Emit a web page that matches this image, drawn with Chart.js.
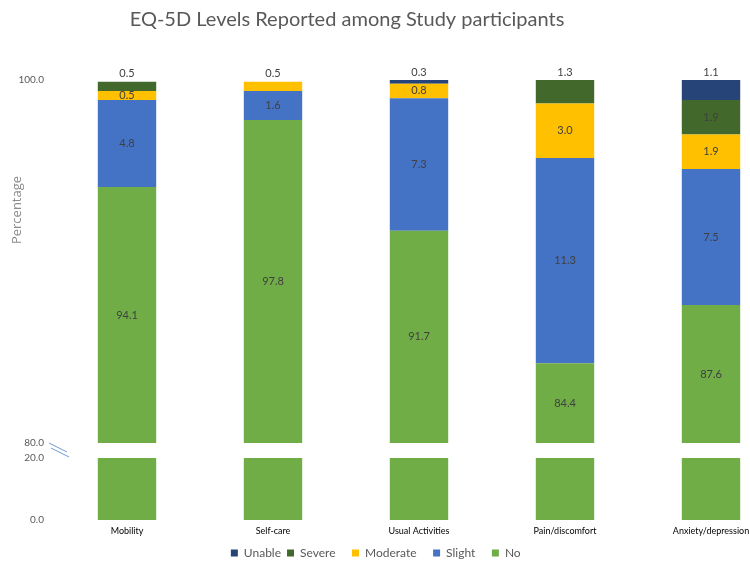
<!DOCTYPE html>
<html>
<head>
<meta charset="utf-8">
<script src="https://cdn.jsdelivr.net/npm/chart.js@4.4.0/dist/chart.umd.min.js"></script>
<style>
  html, body { margin: 0; padding: 0; background: #fff; overflow: hidden; width: 750px; height: 568px; }
  #top { position: absolute; left: -90px; top: 0; width: 874px; height: 465px; }
  #bottom { position: absolute; left: -40px; top: 442px; width: 824px; height: 126px; }
</style>
</head>
<body>
<div id="top"><canvas id="topChart"></canvas></div>
<div id="bottom"><canvas id="bottomChart"></canvas></div>
<script>
const categories = ["Mobility", "Self-care", "Usual Activities", "Pain/discomfort", "Anxiety/depression"];
const noProblems = [94.1, 97.8, 91.7, 84.4, 87.6];
const slight = [4.8, 1.6, 7.3, 11.3, 7.5];
const moderate = [0.5, 0.5, 0.8, 3.0, 1.9];
const severe = [0.5, 0, 0, 1.3, 1.9];
const unable = [0, 0, 0.3, 0, 1.1];
const topTicks = [80, 100];
const bottomTicks = [0, 20];

const FONT = "Lato";

function makeDatasets() {
    return [
        { label: "No", data: noProblems, backgroundColor: "#70ad47" },
        { label: "Slight", data: slight, backgroundColor: "#4472c4" },
        { label: "Moderate", data: moderate, backgroundColor: "#ffc000" },
        { label: "Severe", data: severe, backgroundColor: "#43682b" },
        { label: "Unable", data: unable, backgroundColor: "#264478" },
    ].map((d) => ({ ...d, categoryPercentage: 0.8, barPercentage: 0.5, borderWidth: 0 }));
}

// value labels: top segment above bar, others centered in visible part
const barLabels = {
    id: "barLabels",
    afterDatasetsDraw(chart) {
        const { ctx, chartArea } = chart;
        ctx.save();
        ctx.font = "11px " + FONT;
        ctx.fillStyle = "#404040";
        ctx.textAlign = "center";
        ctx.textBaseline = "middle";
        chart.data.datasets.forEach((ds, di) => {
            const meta = chart.getDatasetMeta(di);
            meta.data.forEach((el, i) => {
                const v = ds.data[i];
                if (!v) return;
                let topIdx = 0;
                chart.data.datasets.forEach((d, k) => { if (d.data[i]) topIdx = k; });
                const yTop = Math.max(el.y, chartArea.top);
                let y;
                if (di === topIdx) {
                    y = yTop - 8;
                } else {
                    y = (yTop + Math.min(el.base, chartArea.bottom)) / 2;
                }
                ctx.fillText(v.toFixed(1), el.x, y);
            });
        });
        ctx.restore();
    },
};

// axis title and the axis break marks
const extras = {
    id: "extras",
    afterDraw(chart) {
        const { ctx } = chart;
        const off = 90;
        ctx.save();
        ctx.translate(off + 17, 210);
        ctx.rotate(-Math.PI / 2);
        ctx.font = "13px 'Open Sans'";
        ctx.fillStyle = "#8c8c8c";
        ctx.textAlign = "center";
        ctx.textBaseline = "middle";
        ctx.fillText("Percentage", 0, 0);
        ctx.restore();

        ctx.save();
        ctx.strokeStyle = "#6f9bd1";
        ctx.lineWidth = 1;
        ctx.beginPath();
        ctx.moveTo(off + 49, 443);
        ctx.lineTo(off + 67, 452);
        ctx.moveTo(off + 51, 448);
        ctx.lineTo(off + 69, 457);
        ctx.stroke();
        ctx.restore();
    },
};

new Chart(document.getElementById("topChart"), {
    type: "bar",
    data: { labels: categories, datasets: makeDatasets() },
    options: {
        responsive: true,
        maintainAspectRatio: false,
        animation: false,
        layout: { padding: { left: 0, right: 0, top: 0, bottom: 22 } },
        plugins: {
            legend: { display: false },
            tooltip: { enabled: false },
            title: {
                display: true,
                text: "EQ-5D Levels Reported among Study participants",
                font: { family: FONT, size: 20, weight: "normal" },
                color: "#595959",
                padding: { top: 8, bottom: 48 },
            },
        },
        scales: {
            x: { stacked: true, display: false },
            y: {
                stacked: true,
                min: 80,
                max: 100,
                grid: { display: false, drawTicks: false },
                border: { display: false },
                afterBuildTicks: (s) => { s.ticks = topTicks.map((v) => ({ value: v })); },
                afterFit: (s) => { s.width = 144; },
                ticks: {
                    padding: 10,
                    color: "#595959",
                    font: { family: FONT, size: 10 },
                    callback: (v) => Number(v).toFixed(1),
                },
            },
        },
    },
    plugins: [barLabels, extras],
});

new Chart(document.getElementById("bottomChart"), {
    type: "bar",
    data: { labels: categories, datasets: makeDatasets() },
    options: {
        responsive: true,
        maintainAspectRatio: false,
        animation: false,
        layout: { autoPadding: false, padding: { left: 18, right: 0, top: 0, bottom: -1 } },
        plugins: {
            tooltip: { enabled: false },
            legend: {
                position: "bottom",
                reverse: true,
                labels: {
                    boxWidth: 7,
                    boxHeight: 7,
                    padding: 6,
                    color: "#595959",
                    font: { family: FONT, size: 12 },
                    // extra gap between items without growing the legend height
                    generateLabels: (chart) => {
                        const items = Chart.defaults.plugins.legend.labels.generateLabels(chart);
                        return items.map((l, i) => ({
                            ...l,
                            text: i === items.length - 1 ? l.text : l.text + "\u2003\u2009",
                        }));
                    },
                },
            },
        },
        scales: {
            x: {
                stacked: true,
                grid: { display: false, drawTicks: false },
                border: { display: false },
                afterFit: (s) => { s.height = 21; },
                ticks: { padding: 6, color: "#000", font: { family: FONT, size: 9 } },
            },
            y: {
                stacked: true,
                min: 0,
                max: 20,
                grid: { display: false, drawTicks: false },
                border: { display: false },
                afterBuildTicks: (s) => { s.ticks = bottomTicks.map((v) => ({ value: v })); },
                afterFit: (s) => { s.width = 76; },
                ticks: {
                    padding: 10,
                    color: "#595959",
                    font: { family: FONT, size: 10 },
                    callback: (v) => Number(v).toFixed(1),
                },
            },
        },
    },
});
</script>
</body>
</html>
